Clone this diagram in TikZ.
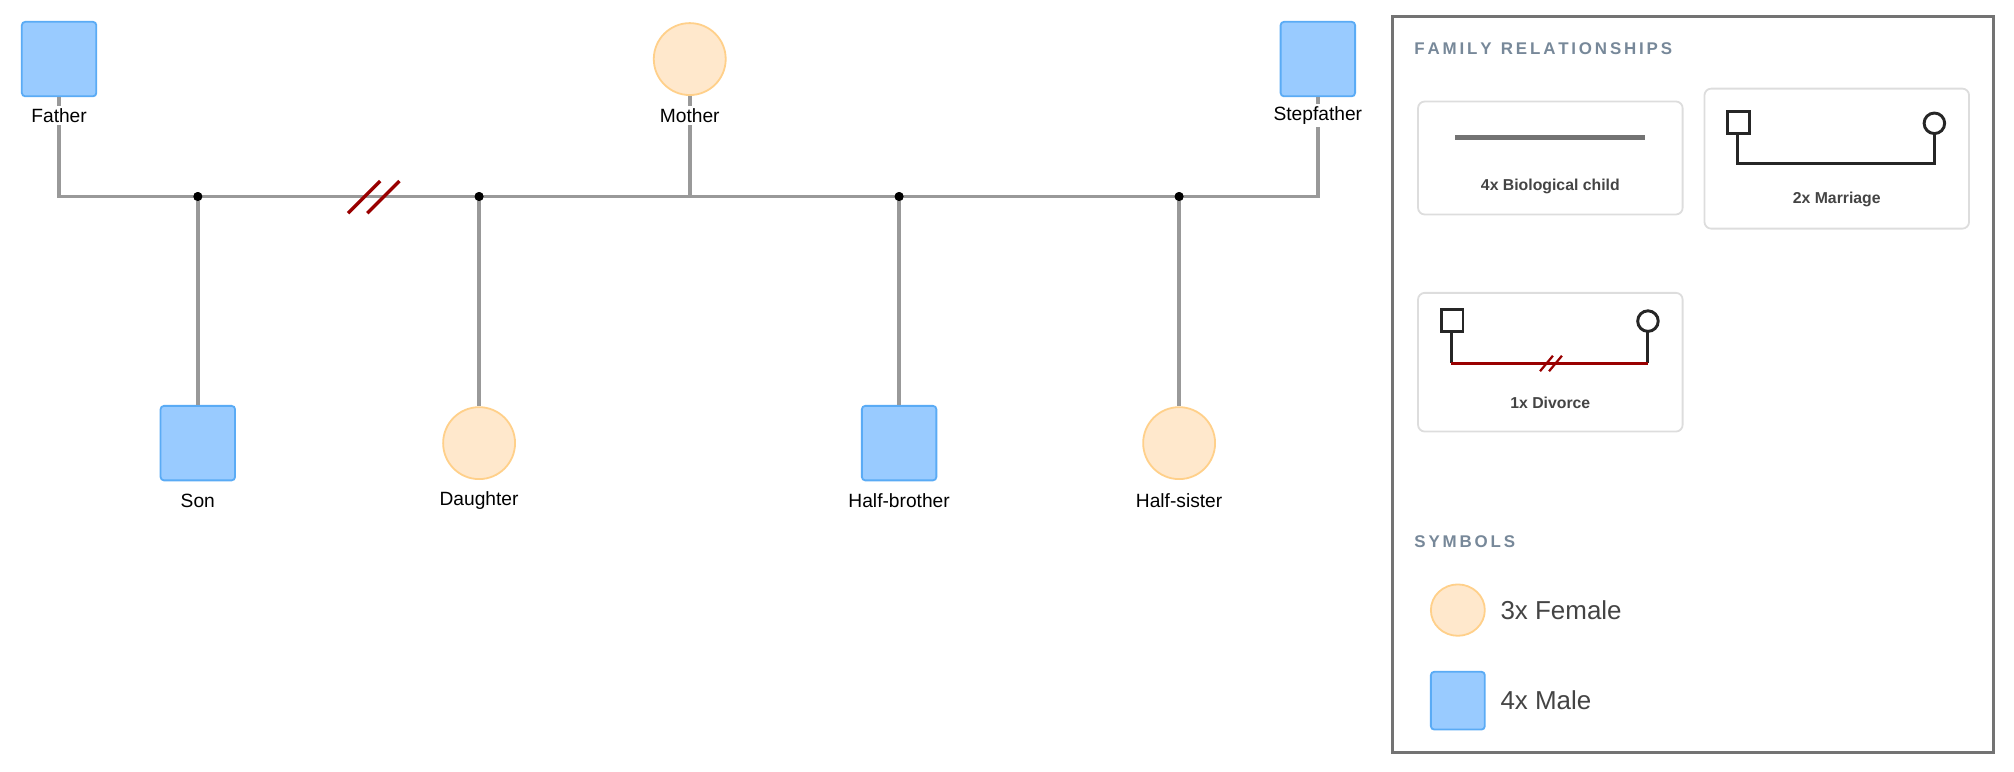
\documentclass[tikz,border=0pt]{standalone}
\usepackage{fontspec}
\setmainfont{Liberation Sans}
\begin{document}
\begin{tikzpicture}[x=0.02cm,y=-0.02cm,
  male/.style={draw=maleB,fill=maleF,line width=0.8pt,minimum size=58*0.02cm,rounded corners=1.5pt,inner sep=0},
  female/.style={draw=femB,fill=femF,line width=0.8pt,circle,minimum size=56*0.02cm,inner sep=0},
  lbl/.style={font=\fontsize{8.5}{10}\selectfont,fill=white,inner sep=1pt},
  rel/.style={draw=relc,line width=1.6pt},
  dot/.style={circle,fill=black,minimum size=4pt,inner sep=0},
  div/.style={draw=divc,line width=1.5pt},
  card/.style={draw=cardc,rounded corners=3pt,line width=0.8pt},
  head/.style={font=\bfseries\fontsize{7.5}{9}\selectfont,text=headc,anchor=west},
  ctxt/.style={font=\bfseries\fontsize{7}{9}\selectfont,text=darkc},
  sym/.style={font=\fontsize{11.5}{13}\selectfont,text=darkc,anchor=west},
  mk/.style={draw=black!85,line width=1.3pt}]
\definecolor{maleB}{HTML}{5AABF5}\definecolor{maleF}{HTML}{99CBFF}
\definecolor{femB}{HTML}{FFD08A}\definecolor{femF}{HTML}{FFE8CC}
\definecolor{relc}{HTML}{999999}\definecolor{divc}{HTML}{990000}
\definecolor{cardc}{HTML}{DDDDDD}\definecolor{headc}{HTML}{778899}
\definecolor{darkc}{HTML}{444444}
\useasboundingbox (0,0) rectangle (1568,601);
% bar
\coordinate (bl) at (46,153); \coordinate (br) at (1026,153); \coordinate (bm) at (537,153);
\node[dot] (d1) at (154,153) {}; \node[dot] (d2) at (373,153) {};
\node[dot] (d3) at (700,153) {}; \node[dot] (d4) at (918,153) {};
\node[male] (father) at (46,46) {};
\node[female] (mother) at (537,46) {};
\node[male] (step) at (1026,46) {};
\node[male] (son) at (154,345) {};
\node[female] (dau) at (373,345) {};
\node[male] (hb) at (700,345) {};
\node[female] (hs) at (918,345) {};
\draw[rel] (father.south) -- (bl) -- (br) -- (step.south);
\draw[rel] (mother.south) -- (bm);
\draw[rel] (d1) -- (son.north); \draw[rel] (d2) -- (dau.north);
\draw[rel] (d3) -- (hb.north); \draw[rel] (d4) -- (hs.north);
\node[dot] at (154,153) {}; \node[dot] at (373,153) {};
\node[dot] at (700,153) {}; \node[dot] at (918,153) {};
\node[lbl] (lf) at (46,90) {Father};
\node[lbl] (lm) at (537,90) {Mother};
\node[lbl] (ls) at (1026,90) {Stepfather};
\node[lbl] (l1) at (154,390) {Son};
\node[lbl] (l2) at (373,390) {Daughter};
\node[lbl] (l3) at (700,390) {Half-brother};
\node[lbl] (l4) at (918,390) {Half-sister};
\draw[div] (271,166) -- (296,141); \draw[div] (286,166) -- (311,141);
% legend
\draw[draw=black!55,line width=1.5pt] (1084,13) rectangle (1552,586);
\node[head] at (1095,38) {F\,A\,M\,I\,L\,Y\; R\,E\,L\,A\,T\,I\,O\,N\,S\,H\,I\,P\,S};
\draw[card] (1104,79) rectangle (1310,167);
\draw[draw=black!55,line width=2.2pt] (1133,107) -- (1281,107);
\node[ctxt] at (1207,145) {4x Biological child};
\draw[card] (1327,69) rectangle (1533,178);
\draw[mk] (1353,104) -- (1353,127) -- (1506,127) -- (1506,104);
\draw[mk,fill=white] (1345,87) rectangle (1362,104);
\draw[mk,fill=white] (1506,96) circle (8);
\node[ctxt] at (1430,155) {2x Marriage};
\draw[card] (1104,228) rectangle (1310,336);
\draw[mk] (1130,258) -- (1130,283); \draw[mk] (1283,258) -- (1283,283);
\draw[draw=divc,line width=1.3pt] (1130,283) -- (1283,283);
\draw[draw=divc,line width=1pt] (1199,289) -- (1209,277) (1206,289) -- (1216,277);
\draw[mk,fill=white] (1122,241) rectangle (1139,258);
\draw[mk,fill=white] (1283,250) circle (8);
\node[ctxt] at (1207,314) {1x Divorce};
\node[head] at (1095,422) {S\,Y\,M\,B\,O\,L\,S};
\draw[draw=femB,fill=femF,line width=0.8pt] (1135,475) ellipse (21 and 20);
\node[sym] at (1162,475) {3x Female};
\draw[draw=maleB,fill=maleF,line width=0.8pt,rounded corners=1.5pt] (1114,523) rectangle (1156,568);
\node[sym] at (1162,545) {4x Male};
\end{tikzpicture}
\end{document}
